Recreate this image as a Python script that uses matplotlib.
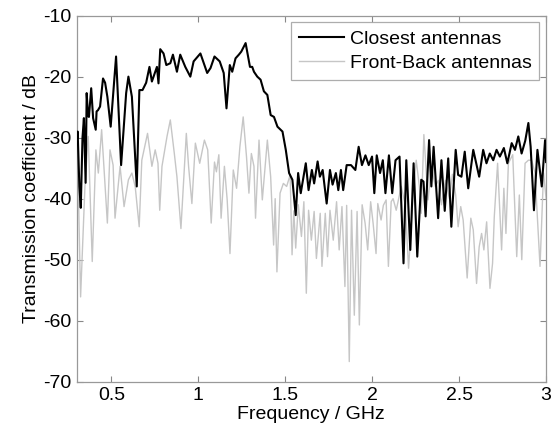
import matplotlib
matplotlib.use("Agg")
import matplotlib.pyplot as plt

# Closest antennas (black)
freq_close = [0.300, 0.306, 0.316, 0.324, 0.334, 0.342, 0.352, 0.358, 0.366, 0.371,
              0.384, 0.395, 0.410, 0.415, 0.423, 0.435, 0.452, 0.464, 0.477, 0.496,
              0.527, 0.556, 0.585, 0.598, 0.618, 0.646, 0.661, 0.679, 0.700, 0.719,
              0.733, 0.762, 0.771, 0.781, 0.800, 0.816, 0.839, 0.854, 0.877, 0.896,
              0.925, 0.954, 0.973, 1.012, 1.051, 1.070, 1.093, 1.123, 1.146, 1.162,
              1.181, 1.195, 1.214, 1.233, 1.247, 1.272, 1.297, 1.310, 1.320, 1.339,
              1.358, 1.377, 1.397, 1.416, 1.435, 1.455, 1.484, 1.503, 1.522, 1.541,
              1.560, 1.574, 1.589, 1.618, 1.634, 1.653, 1.666, 1.686, 1.699, 1.715,
              1.738, 1.757, 1.772, 1.791, 1.805, 1.820, 1.833, 1.853, 1.878, 1.903,
              1.922, 1.941, 1.961, 1.980, 1.999, 2.012, 2.026, 2.045, 2.061, 2.076,
              2.096, 2.115, 2.134, 2.157, 2.180, 2.196, 2.219, 2.238, 2.259, 2.282,
              2.295, 2.307, 2.327, 2.340, 2.353, 2.379, 2.398, 2.417, 2.437, 2.455,
              2.480, 2.494, 2.513, 2.532, 2.552, 2.581, 2.615, 2.638, 2.657, 2.676,
              2.696, 2.715, 2.734, 2.757, 2.777, 2.802, 2.821, 2.840, 2.859, 2.880,
              2.898, 2.911, 2.930, 2.950, 2.975, 2.994, 3.000]
db_close = [-31.0, -29.0, -38.0, -41.5, -30.0, -26.8, -37.4, -22.7, -26.5, -26.6,
            -21.9, -26.8, -28.7, -25.7, -25.5, -24.9, -20.3, -21.0, -23.3, -28.2,
            -16.7, -34.5, -22.7, -20.0, -23.3, -38.0, -22.2, -22.2, -21.0, -18.4,
            -20.8, -18.4, -21.1, -15.5, -16.2, -18.1, -17.8, -16.4, -19.2, -16.4,
            -18.4, -20.0, -17.5, -16.2, -19.4, -18.6, -16.7, -17.5, -19.4, -25.2,
            -18.1, -19.2, -17.0, -16.4, -15.9, -14.5, -18.4, -18.4, -19.2, -20.0,
            -20.5, -22.4, -23.0, -26.3, -26.6, -28.2, -29.0, -32.0, -35.8, -36.9,
            -42.7, -35.8, -39.1, -34.2, -38.6, -35.3, -37.5, -33.9, -36.4, -35.3,
            -40.8, -35.3, -37.7, -35.8, -38.6, -35.3, -38.6, -34.5, -34.5, -35.3,
            -31.5, -34.5, -32.9, -34.5, -33.1, -39.1, -32.9, -35.8, -33.7, -39.1,
            -32.9, -39.1, -33.7, -33.1, -50.6, -33.7, -48.4, -34.2, -49.5, -36.9,
            -37.2, -42.9, -30.4, -38.0, -31.5, -43.2, -33.7, -42.0, -33.4, -44.6,
            -32.0, -36.1, -36.4, -32.3, -38.3, -32.0, -36.4, -32.0, -34.2, -32.6,
            -33.7, -32.0, -33.1, -31.7, -34.2, -30.9, -32.0, -29.8, -32.6, -30.5,
            -27.6, -31.5, -41.9, -32.0, -38.0, -30.4, -34.0]

# Front-Back antennas (grey)
freq_fb = [0.300, 0.309, 0.323, 0.348, 0.367, 0.390, 0.411, 0.425, 0.444, 0.477,
           0.492, 0.510, 0.521, 0.550, 0.573, 0.598, 0.618, 0.637, 0.660, 0.675,
           0.708, 0.733, 0.752, 0.768, 0.778, 0.791, 0.820, 0.839, 0.862, 0.877,
           0.900, 0.931, 0.944, 0.963, 0.983, 1.008, 1.035, 1.054, 1.074, 1.093,
           1.104, 1.118, 1.131, 1.150, 1.166, 1.182, 1.201, 1.220, 1.239, 1.258,
           1.277, 1.291, 1.305, 1.320, 1.329, 1.349, 1.368, 1.397, 1.416, 1.433,
           1.442, 1.452, 1.470, 1.489, 1.508, 1.528, 1.539, 1.549, 1.560, 1.575,
           1.593, 1.607, 1.621, 1.634, 1.650, 1.666, 1.679, 1.701, 1.711, 1.730,
           1.743, 1.757, 1.776, 1.795, 1.810, 1.826, 1.843, 1.853, 1.868, 1.881,
           1.897, 1.913, 1.926, 1.942, 1.959, 1.974, 1.991, 2.005, 2.022, 2.032,
           2.051, 2.064, 2.080, 2.093, 2.109, 2.120, 2.138, 2.167, 2.190, 2.209,
           2.234, 2.253, 2.271, 2.282, 2.297, 2.321, 2.340, 2.363, 2.380, 2.398,
           2.421, 2.444, 2.461, 2.480, 2.494, 2.509, 2.523, 2.546, 2.567, 2.581,
           2.600, 2.615, 2.629, 2.642, 2.658, 2.677, 2.692, 2.702, 2.721, 2.744,
           2.757, 2.769, 2.783, 2.808, 2.831, 2.846, 2.860, 2.879, 2.898, 2.917,
           2.936, 2.965, 2.985, 3.000]
db_fb = [-40.0, -36.9, -56.1, -38.0, -29.8, -50.3, -32.0, -35.8, -28.7, -44.0,
         -32.0, -34.5, -43.2, -34.7, -41.3, -36.9, -35.8, -38.0, -44.6, -33.7,
         -29.3, -34.7, -32.0, -34.2, -41.9, -34.7, -29.8, -27.1, -32.6, -36.4,
         -44.9, -29.3, -34.7, -40.8, -30.9, -34.2, -30.4, -32.0, -44.0, -34.0,
         -35.6, -32.8, -43.2, -34.7, -40.2, -49.0, -35.3, -38.3, -31.5, -26.6,
         -33.1, -39.1, -32.6, -34.7, -43.2, -30.4, -40.2, -30.4, -36.4, -47.6,
         -40.0, -52.0, -39.1, -37.5, -38.0, -36.1, -49.2, -42.0, -48.1, -41.0,
         -46.2, -40.5, -55.5, -41.9, -46.8, -42.1, -49.8, -42.4, -51.1, -42.4,
         -49.5, -41.9, -46.8, -40.5, -48.4, -41.3, -54.4, -41.1, -66.7, -41.9,
         -59.1, -42.1, -60.7, -41.0, -44.0, -48.4, -40.5, -44.0, -49.0, -40.8,
         -43.5, -41.1, -40.2, -51.1, -40.5, -40.0, -41.9, -38.0, -41.0, -51.4,
         -39.7, -33.7, -38.0, -42.4, -29.5, -40.2, -34.7, -38.0, -37.0, -41.0,
         -37.0, -40.0, -36.0, -39.4, -44.6, -41.3, -43.5, -53.0, -43.2, -45.1,
         -53.9, -47.9, -45.7, -48.4, -43.8, -54.7, -50.6, -42.9, -34.2, -48.4,
         -38.3, -45.7, -34.2, -32.8, -49.5, -39.4, -50.0, -34.2, -33.7, -33.7,
         -35.8, -51.1, -35.8, -40.0]

x_ticks = [0.5, 1, 1.5, 2, 2.5, 3]
x_tick_labels = ["0.5", "1", "1.5", "2", "2.5", "3"]
y_ticks = [-70, -60, -50, -40, -30, -20, -10]

plt.rcParams['font.family'] = ['Liberation Sans', 'DejaVu Sans']
plt.rcParams['axes.unicode_minus'] = False
fig = plt.figure(figsize=(5.55, 4.34), dpi=100)
ax = fig.add_axes([0.138, 0.1205, 0.846, 0.8435])

ax.plot(freq_close, db_close, color='black', lw=1.5, label='Closest antennas', zorder=3)
ax.plot(freq_fb, db_fb, color='#c6c6c6', lw=1.0, label='Front-Back antennas', zorder=2)

ax.set_xlim(0.3, 3.0)
ax.set_ylim(-70, -10)
ax.set_xticks(x_ticks)
ax.set_xticklabels(x_tick_labels)
ax.set_yticks(y_ticks)
ax.tick_params(direction='in', length=4, width=0.8, color='#888888',
               labelsize=14, top=True, right=True, pad=4)
for s in ax.spines.values():
    s.set_color('#999999')
    s.set_linewidth(0.9)

ax.set_xlabel('Frequency / GHz', fontsize=14, labelpad=1)
ax.set_ylabel('Transmission coefficient / dB', fontsize=14, labelpad=2)

leg = ax.legend(loc='upper right', fontsize=14, frameon=True, fancybox=False,
                borderpad=0.4, labelspacing=0.35, handlelength=2.3, handletextpad=0.3,
                borderaxespad=0.35)
leg.get_frame().set_edgecolor('#999999')
leg.get_frame().set_linewidth(0.9)

fig.savefig('out.png', dpi=100)
